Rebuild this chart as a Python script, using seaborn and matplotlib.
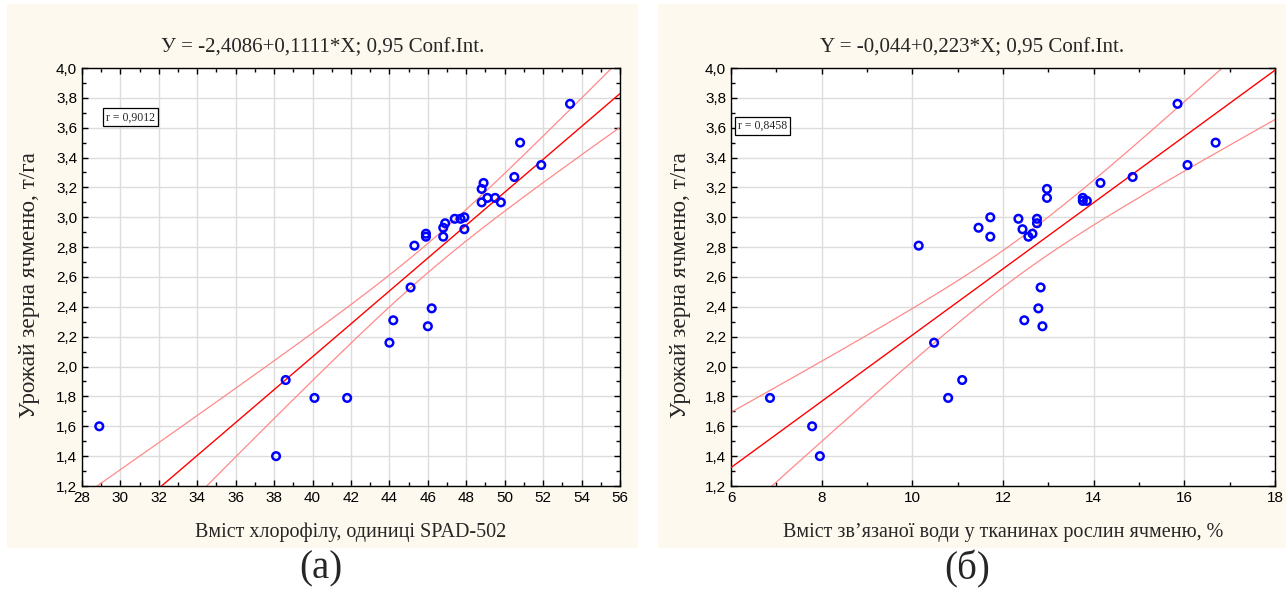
import matplotlib
matplotlib.use("Agg")
import matplotlib.pyplot as plt
import matplotlib.patches as mpatches
from matplotlib.ticker import FuncFormatter, MultipleLocator
import numpy as np
import pandas as pd
import seaborn as sns

# yield of barley grain, t/ha (same plots in both panels)
chl_x = [53.4, 50.8, 51.9, 50.5, 48.9, 48.8, 49.1, 49.5, 48.8, 49.8,
         47.4, 47.7, 47.9, 47.9, 46.9, 46.8, 46.8, 45.9, 45.9, 45.3,
         45.1, 46.2, 44.2, 46.0, 44.0, 38.6, 40.1, 41.8, 28.9, 38.1]
chl_y = [3.76, 3.50, 3.35, 3.27, 3.23, 3.19, 3.13, 3.13, 3.10, 3.10,
         2.99, 2.99, 3.00, 2.92, 2.96, 2.93, 2.87, 2.89, 2.87, 2.81,
         2.53, 2.39, 2.31, 2.27, 2.16, 1.91, 1.79, 1.79, 1.60, 1.40]

water_x = [15.85, 16.69, 16.07, 14.86, 14.15, 12.97, 12.97, 13.76, 13.76, 13.85,
           12.34, 12.75, 12.75, 12.43, 12.65, 12.56, 11.72, 11.46, 11.72, 10.14,
           12.83, 12.78, 12.47, 12.87, 10.48, 11.10, 10.79, 6.86, 7.79, 7.96]
water_y = [3.76, 3.50, 3.35, 3.27, 3.23, 3.19, 3.13, 3.13, 3.11, 3.11,
           2.99, 2.99, 2.96, 2.92, 2.89, 2.87, 2.87, 2.93, 3.00, 2.81,
           2.53, 2.39, 2.31, 2.27, 2.16, 1.91, 1.79, 1.79, 1.60, 1.40]

titles = ["У = -2,4086+0,1111*X; 0,95 Conf.Int.",
          "Y = -0,044+0,223*X; 0,95 Conf.Int."]
xlabels = ["Вміст хлорофілу, одиниці SPAD-502",
           "Вміст зв’язаної води у тканинах рослин ячменю, %"]
ylabel = "Урожай зерна ячменю, т/га"
r_text = ["r = 0,9012", "r = 0,8458"]
panel_tags = ["(а)", "(б)"]
xlims = [(28, 56), (6, 18)]

SERIF = ["Liberation Serif", "DejaVu Serif"]
SANS = ["Liberation Sans", "DejaVu Sans"]

sns.set_style("white")
plt.rcParams["font.family"] = SANS

fig = plt.figure(figsize=(12.86, 5.89), dpi=100)

# cream panel backgrounds
panels = [(7, 638), (658, 1286)]
for x0, x1 in panels:
    fig.patches.append(mpatches.Rectangle((x0 / 1286, 1 - 548 / 589),
                                          (x1 - x0) / 1286, 544 / 589,
                                          transform=fig.transFigure,
                                          facecolor="#fef9ee", edgecolor="none",
                                          zorder=-10))

axes = [fig.add_axes([82 / 1286, 1 - 486 / 589, 538 / 1286, 418 / 589]),
        fig.add_axes([731 / 1286, 1 - 486 / 589, 544 / 1286, 418 / 589])]

comma = FuncFormatter(lambda v, p: f"{v:.1f}".replace(".", ","))
intfmt = FuncFormatter(lambda v, p: f"{v:.0f}")

datasets = [(chl_x, chl_y), (water_x, water_y)]
r_pos = [(0.045, 0.882), (0.012, 0.862)]
ylab_x = [-0.078, -0.074]
tag_x = [321, 967]

for i, ax in enumerate(axes):
    df = pd.DataFrame({"x": datasets[i][0], "y": datasets[i][1]})
    ax.set_facecolor("white")
    ax.set_xlim(*xlims[i])
    ax.set_ylim(1.2, 4.0)

    # regression line across whole axis
    sns.regplot(data=df, x="x", y="y", ax=ax, scatter=False, ci=None,
                truncate=False, line_kws=dict(color="#ff0000", lw=1.0, zorder=3))

    # 95% confidence bounds of the mean response
    x = df["x"].to_numpy()
    y = df["y"].to_numpy()
    n = len(x)
    b, a = np.polyfit(x, y, 1)
    resid = y - (a + b * x)
    s = np.sqrt(np.sum(resid ** 2) / (n - 2))
    sxx = np.sum((x - x.mean()) ** 2)
    xs = np.linspace(*xlims[i], 200)
    half = 2.048 * s * np.sqrt(1 / n + (xs - x.mean()) ** 2 / sxx)
    for sign in (1, -1):
        ax.plot(xs, a + b * xs + sign * half, color="#ff8a8a", lw=0.9, zorder=2)

    sns.scatterplot(data=df, x="x", y="y", ax=ax, marker="o", s=30,
                    facecolors="none", edgecolor="#0000ff", linewidth=1.8,
                    zorder=4)

    ax.set_xlim(*xlims[i])
    ax.set_ylim(1.2, 4.0)
    ax.xaxis.set_major_locator(MultipleLocator(2))
    ax.xaxis.set_minor_locator(MultipleLocator(1))
    ax.yaxis.set_major_locator(MultipleLocator(0.2))
    ax.yaxis.set_minor_locator(MultipleLocator(0.1))
    ax.xaxis.set_major_formatter(intfmt)
    ax.yaxis.set_major_formatter(comma)
    ax.grid(True, which="major", color="#dcdcdc", lw=1.0)
    ax.set_axisbelow(True)
    ax.tick_params(which="both", direction="in", top=True, right=True,
                   bottom=True, left=True, colors="black", labelsize=11)
    ax.tick_params(which="major", length=4, width=1)
    ax.tick_params(which="minor", length=3, width=1)
    for lab in ax.get_xticklabels() + ax.get_yticklabels():
        lab.set_family(SANS)
    for sp in ax.spines.values():
        sp.set_color("black")
        sp.set_linewidth(1.0)

    # title is centred on the cream panel, not on the axes
    fig.text((panels[i][0] + panels[i][1]) / 2 / 1286, 1 - 48 / 589, titles[i],
             family=SERIF, fontsize=15.1, ha="center", va="center")
    ax.set_xlabel(xlabels[i], family=SERIF, fontsize=14.5, labelpad=13)
    ax.set_ylabel(ylabel, family=SERIF, fontsize=16.7)
    ax.yaxis.set_label_coords(ylab_x[i], 0.481)

    ax.text(r_pos[i][0], r_pos[i][1], r_text[i], transform=ax.transAxes,
            family=SERIF, fontsize=8.5, va="center", ha="left", zorder=5,
            bbox=dict(boxstyle="square,pad=0.25", facecolor="white",
                      edgecolor="black", lw=0.9))

    fig.text(tag_x[i] / 1286, 1 - 569 / 589, panel_tags[i], family=SERIF,
             fontsize=28, ha="center", va="center")

fig.savefig("out.png", dpi=100)
